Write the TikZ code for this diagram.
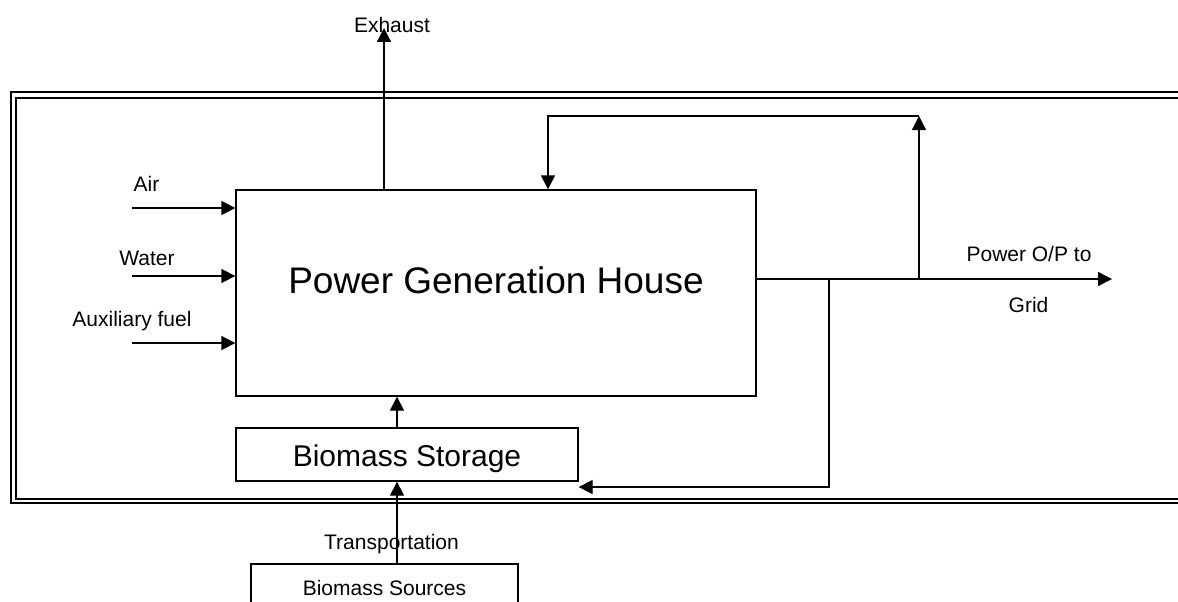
\documentclass[tikz,border=0pt]{standalone}
\usepackage{fontspec}
\setmainfont{Liberation Sans}
\usetikzlibrary{arrows.meta,positioning}

\begin{document}
\begin{tikzpicture}[
    x=1pt, y=-1pt,
    box/.style={rectangle, draw, line width=1.3pt, inner sep=0pt, anchor=base},
    arrow/.style={-{Triangle[length=14pt,width=14pt]}, line width=1.3pt},
    lbl/.style={anchor=base, font=\fontsize{21}{25}\selectfont},
    frame/.style={line width=2pt}
  ]
    \useasboundingbox (0,0) rectangle (1178,602);
    \clip (0,0) rectangle (1178,602);

    % double frame, open to the right
    \draw[frame] (1200,92) -- (11,92) -- (11,503) -- (1200,503);
    \draw[frame] (1200,97.5) -- (16,97.5) -- (16,498.5) -- (1200,498.5);

    \node[box, minimum width=520pt, text height=103pt, text depth=103pt, font=\fontsize{37}{44}\selectfont] (pgh) at (496,293) {Power Generation House};
    \node[box, minimum width=342pt, text height=38pt, text depth=15pt, font=\fontsize{30}{36}\selectfont] (storage) at (407,466) {Biomass Storage};
    \node[box, minimum width=267pt, text height=31pt, text depth=30pt, font=\fontsize{21}{25}\selectfont] (sources) at (384.5,595) {Biomass Sources};

    \node[lbl] (exhaust) at (392,33) {Exhaust};
    \node[lbl] (air) at (146.5,191) {Air};
    \node[lbl] (water) at (147,265) {Water};
    \node[lbl] (auxfuel) at (132,326) {Auxiliary fuel};
    \node[lbl] (powerout) at (1029,261) {Power O/P to};
    \node[lbl] (gridlbl) at (1028.5,312) {Grid};
    \node[lbl] (transport) at (391.5,549) {Transportation};

    \coordinate (exhtop) at (384,28);
    \coordinate (airin) at (132,208);
    \coordinate (waterin) at (132,276);
    \coordinate (fuelin) at (132,343);
    \coordinate (feed) at (397,0);
    \coordinate (gridend) at (1112,279);
    \coordinate (tapup) at (919,279);
    \coordinate (loop) at (919,116);
    \coordinate (ret) at (548,116);
    \coordinate (tapdown) at (829,279);
    \coordinate (back) at (829,487);

    % inputs and exhaust
    \draw[arrow] (exhtop |- pgh.north) -- (exhtop);
    \draw[arrow] (airin) -- (airin -| pgh.west);
    \draw[arrow] (waterin) -- (waterin -| pgh.west);
    \draw[arrow] (fuelin) -- (fuelin -| pgh.west);

    % biomass supply
    \draw[arrow] (sources.north -| feed) -- (storage.south -| feed);
    \draw[arrow] (storage.north -| feed) -- (pgh.south -| feed);

    % power output and return lines
    \draw[arrow] (pgh.east |- gridend) -- (gridend);
    \draw[arrow] (tapup) -- (loop);
    \draw[arrow] (loop) -- (ret) -- (ret |- pgh.north);
    \draw[arrow] (tapdown) -- (back) -- (back -| storage.east);
\end{tikzpicture}
\end{document}
